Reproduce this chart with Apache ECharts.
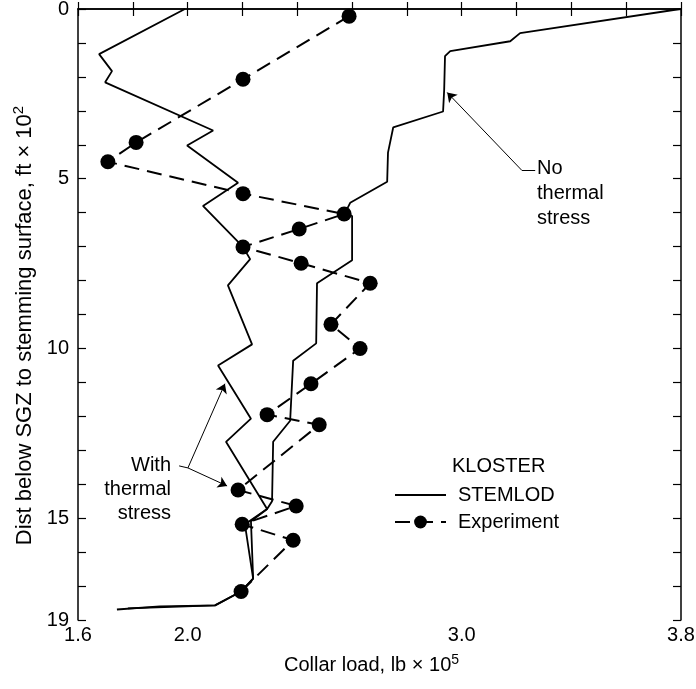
<!DOCTYPE html>
<html>
<head>
<meta charset="utf-8">
<script src="https://cdn.jsdelivr.net/npm/echarts@6/dist/echarts.min.js"></script>
<style>
html,body{margin:0;padding:0;background:#fff;}
#c{width:696px;height:689px;}
</style>
</head>
<body>
<div id="c"></div>
<script>
// ---- Tick labels (as printed in the reference) ----
const xTickValues = [1.6, 2.0, 3.0, 3.8];
const xTickText = ['1.6', '2.0', '3.0', '3.8'];
// In the reference the bottom frame line is printed "19", but it sits on the
// 18th of the evenly spaced unit depth ticks (only two minor ticks follow 15).
const yTickValues = [0, 5, 10, 15, 18];
const yTickText = ['0', '5', '10', '15', '19'];

// ---- KLOSTER STEMLOD: with thermal stress ----
const withThermalLoad  = [1.99, 1.677, 1.724, 1.699, 2.093, 1.998, 2.184, 2.056, 2.202, 2.228, 2.147, 2.235, 2.111, 2.231, 2.14, 2.29, 2.209, 2.239, 2.195, 2.10, 1.899, 1.742];
const withThermalDepth = [0, 1.33, 1.83, 2.16, 3.58, 4.02, 5.12, 5.80, 7.01, 7.37, 8.14, 9.88, 10.5, 12.07, 12.75, 14.73, 15.18, 16.78, 17.16, 17.57, 17.60, 17.69];

// ---- KLOSTER STEMLOD: no thermal stress ----
const noThermalLoad  = [3.797, 3.213, 3.177, 2.958, 2.939, 2.936, 2.932, 2.75, 2.731, 2.728, 2.593, 2.575, 2.60, 2.60, 2.472, 2.469, 2.385, 2.374, 2.312, 2.308, 2.29, 2.231, 2.239, 2.195, 2.10, 1.782];
const noThermalDepth = [0, 0.71, 0.95, 1.24, 1.39, 2.37, 3.02, 3.49, 4.23, 5.09, 5.71, 6.0, 6.1, 7.4, 8.08, 9.85, 10.36, 12.13, 12.75, 14.5, 14.73, 15.09, 16.78, 17.16, 17.57, 17.66];

// ---- Experiment ----
const experimentLoad  = [2.589, 2.202, 1.812, 1.709, 2.202, 2.571, 2.407, 2.202, 2.414, 2.666, 2.523, 2.629, 2.45, 2.29, 2.48, 2.184, 2.396, 2.199, 2.385, 2.195];
const experimentDepth = [0.21, 2.07, 3.93, 4.5, 5.44, 6.04, 6.48, 7.01, 7.49, 8.08, 9.29, 10.0, 11.04, 11.95, 12.25, 14.17, 14.64, 15.18, 15.65, 17.16];

// ---- Annotation leader lines (data coordinates) ----
const noThermalLeader = [[3.268, 4.76], [3.220, 4.76], [2.947, 2.46]];
const withThermalLeader = [[1.969, 13.46], [2.001, 13.52]];
const withThermalTargets = [[2.136, 11.04], [2.144, 14.05]];

const zip = (a, b) => a.map((v, i) => [v, b[i]]);
const FONT = 'Liberation Sans, Arial, sans-serif';

const fmtX = v => {
  const i = xTickValues.findIndex(t => Math.abs(t - v) < 1e-6);
  return i >= 0 ? xTickText[i] : '';
};
const fmtY = v => {
  const i = yTickValues.findIndex(t => Math.abs(t - v) < 1e-6);
  return i >= 0 ? yTickText[i] : '';
};

const axisLine = {show: true, lineStyle: {color: '#000', width: 1.5}};
const tickX = {show: true, inside: true, length: 7, lineStyle: {color: '#000', width: 1.2}};
const tickY = {show: true, inside: true, length: 8, lineStyle: {color: '#000', width: 1.2}};

const leaderData = [
  [{coord: noThermalLeader[0], symbol: 'none'}, {coord: noThermalLeader[1], symbol: 'none'}],
  [{coord: noThermalLeader[1], symbol: 'none'}, {coord: noThermalLeader[2], symbol: 'arrow'}],
  [{coord: withThermalLeader[0], symbol: 'none'}, {coord: withThermalLeader[1], symbol: 'none'}],
  [{coord: withThermalLeader[1], symbol: 'none'}, {coord: withThermalTargets[0], symbol: 'arrow'}],
  [{coord: withThermalLeader[1], symbol: 'none'}, {coord: withThermalTargets[1], symbol: 'arrow'}]
];

const chart = echarts.init(document.getElementById('c'), null, {renderer: 'canvas'});
chart.setOption({
  animation: false,
  backgroundColor: '#fff',
  textStyle: {fontFamily: FONT, color: '#000'},
  grid: {left: 78, right: 15, top: 9, bottom: 69, containLabel: false, outerBoundsMode: 'none'},
  xAxis: [{
    type: 'value', position: 'bottom', min: 1.6, max: 3.8, interval: 0.2,
    axisLine, axisTick: tickX, splitLine: {show: false},
    axisLabel: {formatter: fmtX, color: '#000', fontSize: 20, fontFamily: FONT, margin: 5,
                showMinLabel: true, showMaxLabel: true, hideOverlap: false},
    name: '{t|Collar load, lb × 10}{s|5}',
    nameLocation: 'middle', nameGap: 33,
    nameTextStyle: {
      padding: [0, 16, 0, 0],
      rich: {
        t: {fontSize: 20, fontFamily: FONT, color: '#000', lineHeight: 24},
        s: {fontSize: 14, fontFamily: FONT, color: '#000', verticalAlign: 'top', lineHeight: 14}
      }
    }
  }, {
    type: 'value', position: 'top', min: 1.6, max: 3.8, interval: 0.2,
    axisLine, axisTick: tickX, splitLine: {show: false}, axisLabel: {show: false}
  }],
  yAxis: [{
    type: 'value', position: 'left', inverse: true, min: 0, max: 18, interval: 1,
    axisLine, axisTick: tickY, splitLine: {show: false},
    axisLabel: {formatter: fmtY, color: '#000', fontSize: 20, fontFamily: FONT, margin: 9,
                showMinLabel: true, showMaxLabel: true, hideOverlap: false},
    name: '{t|Dist below SGZ to stemming surface, ft × 10}{s|2}',
    nameLocation: 'middle', nameGap: 36,
    nameTextStyle: {
      padding: [0, 22, 0, 0],
      rich: {
        t: {fontSize: 22, fontFamily: FONT, color: '#000', lineHeight: 26},
        s: {fontSize: 15, fontFamily: FONT, color: '#000', verticalAlign: 'top', lineHeight: 15}
      }
    }
  }, {
    type: 'value', position: 'right', inverse: true, min: 0, max: 18, interval: 1,
    axisLine, axisTick: tickY, splitLine: {show: false}, axisLabel: {show: false}
  }],
  legend: {
    data: [
      {name: 'STEMLOD', itemStyle: {opacity: 0}},
      {name: 'Experiment'}
    ],
    orient: 'vertical', left: 389, top: 480,
    itemWidth: 51, itemHeight: 16, itemGap: 7,
    selectedMode: false,
    textStyle: {fontSize: 20, fontFamily: FONT, color: '#000', lineHeight: 18, padding: [0, 0, 0, 7]}
  },
  graphic: [
    {type: 'text', left: 452, top: 456, style: {text: 'KLOSTER', font: '20px ' + FONT, fill: '#000'}},
    {type: 'text', left: 537, top: 156, style: {text: 'No\nthermal\nstress', font: '20px ' + FONT, fill: '#000', lineHeight: 25}},
    {type: 'text', x: 171, y: 453, style: {text: 'With\nthermal\nstress', font: '20px ' + FONT, fill: '#000', lineHeight: 24, align: 'right', verticalAlign: 'top'}}
  ],
  series: [
    {
      name: 'STEMLOD', type: 'line', xAxisIndex: 0, yAxisIndex: 0,
      data: zip(withThermalLoad, withThermalDepth),
      symbol: 'none', lineStyle: {color: '#000', width: 1.8}, itemStyle: {color: '#000'},
      silent: true,
      markLine: {
        silent: true, animation: false,
        symbolSize: 9,
        label: {show: false},
        lineStyle: {color: '#000', width: 1, type: 'solid'},
        emphasis: {disabled: true},
        data: leaderData
      }
    },
    {
      name: 'STEMLOD', type: 'line', xAxisIndex: 0, yAxisIndex: 0,
      data: zip(noThermalLoad, noThermalDepth),
      symbol: 'none', lineStyle: {color: '#000', width: 1.8}, itemStyle: {color: '#000'},
      silent: true
    },
    {
      name: 'Experiment', type: 'line', xAxisIndex: 0, yAxisIndex: 0,
      data: zip(experimentLoad, experimentDepth),
      symbol: 'circle', symbolSize: 15,
      itemStyle: {color: '#000', borderWidth: 0},
      lineStyle: {color: '#000', width: 2, type: [15, 8]},
      silent: true
    }
  ]
});
</script>
</body>
</html>
